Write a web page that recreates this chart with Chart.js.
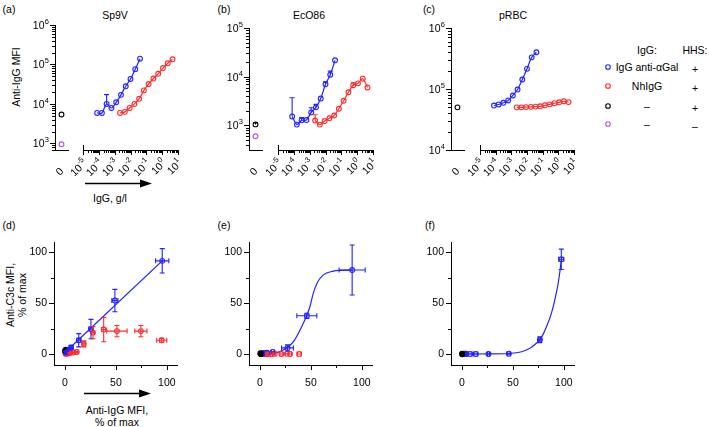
<!DOCTYPE html>
<html>
<head>
<meta charset="utf-8">
<script src="https://cdn.jsdelivr.net/npm/chart.js@4.4.1/dist/chart.umd.min.js"></script>
<style>
  body { margin: 0; background: #fff; }
  #fig { position: relative; width: 709px; height: 427px; overflow: hidden;
         font-family: 'Liberation Sans', Arial, sans-serif; font-size: 10.5px; color: #000; }
  #fig canvas { position: absolute; }
  .t { position: absolute; transform: translate(-50%, -50%); white-space: nowrap; line-height: 1; }
  .r { transform: translate(-50%, -50%) rotate(-90deg); }
  svg { position: absolute; left: 0; top: 0; }
</style>
</head>
<body>
<div id="fig">
  <div class="t" style="left:9px;top:9px">(a)</div>
  <div class="t" style="left:224px;top:9px">(b)</div>
  <div class="t" style="left:429px;top:9px">(c)</div>
  <div class="t" style="left:9px;top:225px">(d)</div>
  <div class="t" style="left:224px;top:225px">(e)</div>
  <div class="t" style="left:430px;top:225px">(f)</div>

  <div class="t" style="left:115px;top:15px">Sp9V</div>
  <div class="t" style="left:309px;top:15px">EcO86</div>
  <div class="t" style="left:513px;top:15px">pRBC</div>

  <div class="t r" style="left:16px;top:77px">Anti-IgG MFI</div>
  <div class="t" style="left:110px;top:198px">IgG, g/l</div>

  <div class="t r" style="left:10px;top:295px">Anti-C3c MFI,</div>
  <div class="t r" style="left:22px;top:295px">% of max</div>
  <div class="t" style="left:117px;top:410px">Anti-IgG MFI,</div>
  <div class="t" style="left:117px;top:422px">% of max</div>

  <div class="t" style="left:647px;top:50px">IgG:</div>
  <div class="t" style="left:695px;top:50px">HHS:</div>
  <div id="legend"></div>

  <svg id="marks" width="709" height="427">
    <line x1="85" y1="183.5" x2="141" y2="183.5" stroke="#000" stroke-width="1.5"/>
    <polygon points="140,179.5 152,183.5 140,187.5" fill="#000"/>
    <line x1="84" y1="393.5" x2="140" y2="393.5" stroke="#000" stroke-width="1.5"/>
    <polygon points="139,389.5 151,393.5 139,397.5" fill="#000"/>
  </svg>
</div>

<script>
const BLUE = '#2121ff';
const RED = '#ff2b2b';
const BLACK = '#000000';
const MAGENTA = '#b853e8';
const FONT = "'Liberation Sans', Arial, sans-serif";

// IgG dilution series, g/l
const blueConc = [7.8e-5, 1.56e-4, 3.1e-4, 6.25e-4, 1.25e-3, 2.5e-3, 5e-3, 0.01, 0.02, 0.04];
const redConc = [0.0022, 0.0044, 0.0088, 0.0176, 0.035, 0.07, 0.14, 0.28, 0.56, 1.125, 2.25, 4.5];

const xLogTicks = [1e-5, 1e-4, 1e-3, 1e-2, 1e-1, 1, 10];
const xLogExps = ['-5', '-4', '-3', '-2', '-1', '0', '1'];

// (a) Sp9V, anti-IgG MFI
const aBlue = [5900, 5900, 10000, 7900, 11000, 17000, 28000, 43000, 76000, 140000];
const aBlueHi = [null, null, 17200, null, null, null, null, null, null, null];
const aRed = [5900, 6300, 7900, 10000, 13500, 22000, 32000, 44000, 58000, 81000, 107000, 135000];
const aCtrl = [5400, 950];            // black, magenta
const aYTicks = [1e3, 1e4, 1e5, 1e6];
const aYExps = ['3', '4', '5', '6'];

// (b) EcO86
const bBlue = [1530, 1040, 1270, 1290, 1850, 2350, 3560, 7000, 11000, 21700];
const bBlueHi = [3700, null, 1450, null, 2300, 2700, null, 7900, 13000, null];
const bRed = [1260, 1040, 1230, 1400, 1600, 2200, 3200, 4800, 6700, 7300, 9100, 6000];
const bRedHi = [1660, null, null, null, null, null, null, null, 7500, null, null, null];
const bCtrl = [1050, 600];
const bCtrlHi = [1130, null];
const bYTicks = [1e3, 1e4, 1e5];
const bYExps = ['3', '4', '5'];

// (c) pRBC
const cBlue = [53500, 55800, 59400, 64900, 78300, 98000, 143000, 214000, 330000, 400000];
const cRed = [50000, 50000, 50500, 51000, 51500, 52000, 54000, 56000, 58500, 60500, 63000, 61000];
const cCtrl = [50000];
const cYTicks = [1e4, 1e5, 1e6];
const cYExps = ['4', '5', '6'];

// (d) anti-C3c vs anti-IgG, % of max
const dBlueX = [0.5, 1, 1.5, 2.5, 4, 6, 13.5, 25.5, 49, 95.5];
const dBlueY = [1.5, 2, 2.5, 3, 4.5, 6.5, 13.5, 24.5, 52.5, 91.5];
const dBlueXErr = [0, 0, 0, 0.5, 1, 1.5, 2, 2, 3, 6.5];
const dBlueYErr = [1, 1, 1, 1, 1.5, 2, 6.5, 9.5, 11, 12];
const dRedX = [0.5, 1.5, 3, 5, 8, 11.5, 18.5, 27.5, 38, 51, 74.5, 95];
const dRedY = [0.2, 0.3, 0.5, 1, 1.5, 2, 10, 21, 24, 22.5, 22.5, 13.5];
const dRedXErr = [0, 0, 0, 0.5, 1, 1.5, 1.5, 1.5, 2, 10, 6, 5];
const dRedYErr = [0, 0, 0, 0.5, 0.5, 1, 3, 6, 12, 5.5, 5.5, 2];
const dCtrlX = [0.3, 0.8];
const dCtrlY = [3, 4];
const dFitX = [0, 96];
const dFitY = [1.5, 92];

// (e)
const eBlueX = [1.5, 2.5, 3.5, 4.5, 5.5, 7, 12.5, 27, 46, 90.5];
const eBlueY = [0.3, 0.5, 0.6, 0.8, 1, 1.2, 2, 6, 37.5, 82.5];
const eBlueXErr = [0, 0, 0, 0.5, 0.5, 1, 1.5, 5.8, 9.8, 12.8];
const eBlueYErr = [0, 0, 0, 0, 0, 0.5, 0.5, 3, 2.5, 24.5];
const eRedX = [1, 2, 3, 4.5, 6, 8, 11.5, 14.5, 21, 26.5, 29.5, 38.5];
const eRedY = [0, 0, 0, 0, 0, 0, 0, 0.2, 0, 0.2, 0, 0];
const eRedXErr = [0, 0, 0, 0, 0.5, 0.5, 1, 1, 1.5, 1.5, 1.5, 2];
const eCtrlX = [0.5, 1];
const eCtrlY = [0.5, 0.3];
const eFitX = [5, 10, 19.6, 27.7, 32.7, 37.6, 42, 46, 49, 52.3, 56.2, 62, 71.9, 80, 90.5];
const eFitY = [0.2, 0.5, 2.3, 7.2, 12, 20.2, 29, 38, 46.4, 59.5, 70, 77.5, 81.4, 82.2, 82.5];

// (f)
const fBlueX = [0.8, 1.5, 2.5, 4, 8, 13.5, 26, 46, 76.5, 97.5];
const fBlueY = [0, 0, 0, 0, 0, 0, 0, 0.3, 14, 93];
const fBlueXErr = [0, 0, 0, 0.5, 2, 2, 1, 1.5, 1.5, 2.5];
const fBlueYErr = [0, 0, 0, 0, 0, 0, 0, 0.5, 3, 10];
const fRedX = [0.3, 0.6, 0.9, 1.2, 1.5, 1.8, 2.1, 2.5, 2.9, 3.3, 3.7, 4.2];
const fRedY = [0, 0, 0, 0.1, 0, 0.2, 0, 0.1, 0.2, 0.1, 0.3, 0.2];
const fCtrlX = [0.2];
const fCtrlY = [0];
const fFitX = [0, 30, 45, 55, 62, 68, 73, 76.5, 80, 83, 86.5, 89.5, 92, 94.4, 96, 97.7];
const fFitY = [0, 0.1, 0.5, 1.5, 3.5, 6.5, 10.5, 14, 20, 27, 36, 46, 57, 69, 80, 93];

const pctTicks = [0, 50, 100];
const pctLabels = ['0', '50', '100'];
const pctMinor = [25, 75];

// legend
const legendIgG = ['IgG anti-αGal', 'NhIgG', '–', '–'];
const legendHHS = ['+', '+', '+', '–'];
const legendColors = [BLUE, RED, BLACK, MAGENTA];
const legendY = [67, 86, 106, 124];

Chart.defaults.font.family = FONT;
Chart.defaults.font.size = 10.5;
Chart.defaults.color = '#000';

function logMinor(min, max) {
    const out = [];
    for (let e = Math.floor(Math.log10(min)); e <= Math.ceil(Math.log10(max)); e++) {
        for (let k = 2; k <= 9; k++) {
            const v = k * Math.pow(10, e);
            if (v >= min && v <= max) out.push(v);
        }
    }
    return out;
}

// tick marks drawn by hand: long majors, short minors
const tickMarks = {
    id: 'tickMarks',
    afterDraw(chart, args, opts) {
        const ctx = chart.ctx, a = chart.chartArea;
        ctx.save();
        ctx.strokeStyle = '#000';
        ctx.lineWidth = 1;
        ctx.beginPath();
        ['x', 'y'].forEach(id => {
            const spec = opts[id];
            if (!spec) return;
            const s = chart.scales[id];
            const marks = spec.major.map(v => [v, 5]).concat((spec.minor || []).map(v => [v, 3]));
            marks.forEach(([v, len]) => {
                const p = Math.round(s.getPixelForValue(v)) + 0.5;
                if (id === 'x') { ctx.moveTo(p, a.bottom); ctx.lineTo(p, a.bottom + len); }
                else { ctx.moveTo(a.left, p); ctx.lineTo(a.left - len, p); }
            });
            if (spec.cap) {
                const p = Math.round(a.left) + 0.5;
                ctx.moveTo(p, a.bottom - 5); ctx.lineTo(p, a.bottom + 5);
            }
        });
        ctx.stroke();
        ctx.restore();
    }
};

// "10" with a raised exponent, right end at the anchor
function drawPower(ctx, x, y, exp, rot) {
    ctx.save();
    ctx.translate(x, y);
    ctx.rotate(rot);
    ctx.fillStyle = '#000';
    ctx.textAlign = 'right';
    ctx.textBaseline = 'alphabetic';
    ctx.font = '7.5px ' + FONT;
    const ew = ctx.measureText(exp).width;
    ctx.fillText(exp, 0, -1.2);
    ctx.font = '10.5px ' + FONT;
    ctx.fillText('10', -ew - 0.3, 3.8);
    ctx.restore();
}

const powerLabels = {
    id: 'powerLabels',
    afterDraw(chart, args, opts) {
        const ctx = chart.ctx, a = chart.chartArea;
        if (opts.y) {
            opts.y.values.forEach((v, i) => {
                drawPower(ctx, a.left - 6, chart.scales.y.getPixelForValue(v), opts.y.exps[i], 0);
            });
        }
        if (opts.x) {
            opts.x.values.forEach((v, i) => {
                drawPower(ctx, chart.scales.x.getPixelForValue(v) + 2, a.bottom + 11, opts.x.exps[i], -Math.PI / 4);
            });
        }
        if (opts.zero) {
            ctx.save();
            ctx.translate((a.left + a.right) / 2 - 1.5, 172);
            ctx.rotate(-Math.PI / 4);
            ctx.fillStyle = '#000';
            ctx.font = '10.5px ' + FONT;
            ctx.textAlign = 'center';
            ctx.textBaseline = 'middle';
            ctx.fillText('0', 0, 0);
            ctx.restore();
        }
    }
};

const errorBars = {
    id: 'errorBars',
    afterDatasetsDraw(chart) {
        const ctx = chart.ctx, xs = chart.scales.x, ys = chart.scales.y;
        chart.data.datasets.forEach(ds => {
            if (!ds.errX && !ds.errY) return;
            ctx.save();
            ctx.strokeStyle = ds.borderColor;
            ctx.lineWidth = 1.1;
            ctx.beginPath();
            ds.data.forEach((p, i) => {
                const px = xs.getPixelForValue(p.x), py = ys.getPixelForValue(p.y);
                const ey = ds.errY && ds.errY[i];
                if (ey) {
                    const y0 = ey[0] == null ? py : ys.getPixelForValue(ey[0]);
                    const y1 = ys.getPixelForValue(ey[1]);
                    ctx.moveTo(px, y0); ctx.lineTo(px, y1);
                    ctx.moveTo(px - 2.5, y1); ctx.lineTo(px + 2.5, y1);
                    if (ey[0] != null) { ctx.moveTo(px - 2.5, y0); ctx.lineTo(px + 2.5, y0); }
                }
                const ex = ds.errX && ds.errX[i];
                if (ex) {
                    const x0 = xs.getPixelForValue(ex[0]), x1 = xs.getPixelForValue(ex[1]);
                    ctx.moveTo(x0, py); ctx.lineTo(x1, py);
                    ctx.moveTo(x0, py - 2.5); ctx.lineTo(x0, py + 2.5);
                    ctx.moveTo(x1, py - 2.5); ctx.lineTo(x1, py + 2.5);
                }
            });
            ctx.stroke();
            ctx.restore();
        });
    }
};

Chart.register(tickMarks, powerLabels, errorBars);

function addCanvas(left, top, w, h) {
    const c = document.createElement('canvas');
    c.width = w; c.height = h;
    c.style.left = left + 'px'; c.style.top = top + 'px';
    c.style.width = w + 'px'; c.style.height = h + 'px';
    document.getElementById('fig').appendChild(c);
    return c;
}

function fixedTicks(values) {
    return s => { s.ticks = values.map(v => ({ value: v })); };
}

function fixSize(size, dim) {
    return s => {
        s[dim] = size;
        s.paddingLeft = 0; s.paddingRight = 0; s.paddingTop = 0; s.paddingBottom = 0;
    };
}

function axis(extra) {
    return Object.assign({
        grid: { display: false, drawTicks: false },
        border: { display: true, color: '#000', width: 1 }
    }, extra);
}

function circles(xs, ys, color, extra) {
    return Object.assign({
        data: xs.map((x, i) => ({ x: x, y: ys[i] })),
        borderColor: color,
        backgroundColor: 'rgba(0,0,0,0)',
        pointRadius: 2.4,
        pointBorderWidth: 1.1,
        borderWidth: 1.1,
        showLine: false
    }, extra);
}

function upperErr(hi) {
    return hi.map(h => h == null ? null : [null, h]);
}

function symErr(vals, err) {
    return vals.map((v, i) => err[i] ? [v - err[i], v + err[i]] : null);
}

const baseOpts = {
    responsive: false,
    animation: false,
    events: []
};

// top row: a small "0" chart for the controls and a log-x chart for the dilutions
function topPanel(p) {
    const areaBottom = 150;
    new Chart(addCanvas(p.left0, 0, 75, 200), {
        type: 'scatter',
        data: { datasets: p.ctrl },
        options: Object.assign({}, baseOpts, {
            layout: { padding: { top: p.top, right: 75 - (p.axisX + 13) + p.left0, left: 0, bottom: 0 } },
            scales: {
                x: axis({
                    type: 'linear', min: -1, max: 1,
                    afterBuildTicks: fixedTicks([0]),
                    afterFit: fixSize(200 - areaBottom, 'height'),
                    ticks: { display: false }
                }),
                y: axis({
                    type: 'logarithmic', min: p.yMin, max: p.yMax,
                    afterBuildTicks: fixedTicks(p.yTicks),
                    afterFit: fixSize(p.axisX - p.left0, 'width'),
                    ticks: { display: false }
                })
            },
            plugins: {
                legend: { display: false }, tooltip: { enabled: false },
                tickMarks: { y: { major: p.yTicks, minor: logMinor(p.yMin, p.yMax) } },
                powerLabels: { y: { values: p.yTicks, exps: p.yExps }, zero: true }
            }
        })
    });

    const w1 = p.right1 - p.left1;
    new Chart(addCanvas(p.left1, 0, w1, 200), {
        type: 'scatter',
        data: { datasets: p.series },
        options: Object.assign({}, baseOpts, {
            layout: { padding: { top: p.top, right: p.right1 - p.areaRight, left: p.areaLeft - p.left1, bottom: 0 } },
            scales: {
                x: axis({
                    type: 'logarithmic', min: 1e-5, max: 10,
                    afterBuildTicks: fixedTicks(xLogTicks),
                    afterFit: fixSize(200 - areaBottom, 'height'),
                    ticks: { display: false }
                }),
                y: { type: 'logarithmic', min: p.yMin, max: p.yMax, display: false }
            },
            plugins: {
                legend: { display: false }, tooltip: { enabled: false },
                tickMarks: { x: { major: xLogTicks, minor: logMinor(1e-5, 10), cap: true } },
                powerLabels: { x: { values: xLogTicks, exps: xLogExps } }
            }
        })
    });
}

function curveSet(xs, ys, color, line) {
    return circles(xs, ys, color, Object.assign({ showLine: true, tension: 0.3, borderWidth: 1.2 }, line));
}

topPanel({
    left0: 0, axisX: 55, left1: 62, areaLeft: 83, areaRight: 178, right1: 190, top: 25,
    yMin: 680, yMax: 1e6, yTicks: aYTicks, yExps: aYExps,
    ctrl: [
        circles([0], [aCtrl[0]], BLACK),
        circles([0], [aCtrl[1]], MAGENTA)
    ],
    series: [
        curveSet(blueConc, aBlue, BLUE, { errY: upperErr(aBlueHi) }),
        curveSet(redConc, aRed, RED)
    ]
});

topPanel({
    left0: 195, axisX: 249, left1: 257, areaLeft: 278, areaRight: 373, right1: 385, top: 28,
    yMin: 313, yMax: 1e5, yTicks: bYTicks, yExps: bYExps,
    ctrl: [
        circles([0], [bCtrl[0]], BLACK, { errY: upperErr(bCtrlHi).slice(0, 1) }),
        circles([0], [bCtrl[1]], MAGENTA)
    ],
    series: [
        curveSet(blueConc, bBlue, BLUE, { errY: upperErr(bBlueHi) }),
        curveSet(redConc, bRed, RED, { errY: upperErr(bRedHi) })
    ]
});

topPanel({
    left0: 397, axisX: 451, left1: 459, areaLeft: 480, areaRight: 574, right1: 584, top: 28,
    yMin: 1e4, yMax: 1e6, yTicks: cYTicks, yExps: cYExps,
    ctrl: [
        circles([0], [cCtrl[0]], BLACK)
    ],
    series: [
        curveSet(blueConc, cBlue, BLUE),
        curveSet(redConc, cRed, RED)
    ]
});

// bottom row
function bottomPanel(left, axisX, sets) {
    new Chart(addCanvas(left, 230, 190, 197), {
        type: 'scatter',
        data: { datasets: sets },
        options: Object.assign({}, baseOpts, {
            layout: { padding: { top: 12, right: 190 - (axisX - left + 123), left: 0, bottom: 0 } },
            scales: {
                x: axis({
                    type: 'linear', min: -10.8, max: 110,
                    afterBuildTicks: fixedTicks(pctTicks),
                    afterFit: fixSize(427 - 365, 'height'),
                    ticks: { padding: 12, autoSkip: false, maxRotation: 0, callback: (v, i) => pctLabels[i] }
                }),
                y: axis({
                    type: 'linear', min: -10.8, max: 110,
                    afterBuildTicks: fixedTicks(pctTicks),
                    afterFit: fixSize(axisX - left, 'width'),
                    ticks: { padding: 7, autoSkip: false, callback: (v, i) => pctLabels[i] }
                })
            },
            plugins: {
                legend: { display: false }, tooltip: { enabled: false },
                tickMarks: {
                    x: { major: pctTicks, minor: pctMinor },
                    y: { major: pctTicks, minor: pctMinor }
                }
            }
        })
    });
}

function fitLine(xs, ys, smooth) {
    return {
        data: xs.map((x, i) => ({ x: x, y: ys[i] })),
        borderColor: BLUE, borderWidth: 1.2, pointRadius: 0, showLine: true,
        tension: smooth ? 0.4 : 0, cubicInterpolationMode: smooth ? 'monotone' : 'default'
    };
}

function blackDots(xs, ys) {
    return circles(xs, ys, BLACK, { backgroundColor: BLACK, pointRadius: 2.6 });
}

bottomPanel(0, 54, [
    blackDots(dCtrlX, dCtrlY),
    circles(dBlueX, dBlueY, BLUE, { errX: symErr(dBlueX, dBlueXErr), errY: symErr(dBlueY, dBlueYErr) }),
    circles(dRedX, dRedY, RED, { errX: symErr(dRedX, dRedXErr), errY: symErr(dRedY, dRedYErr) }),
    fitLine(dFitX, dFitY, false)
]);

bottomPanel(195, 249, [
    blackDots(eCtrlX, eCtrlY),
    circles(eBlueX, eBlueY, BLUE, { errX: symErr(eBlueX, eBlueXErr), errY: symErr(eBlueY, eBlueYErr) }),
    circles(eRedX, eRedY, RED, { errX: symErr(eRedX, eRedXErr) }),
    fitLine(eFitX, eFitY, true)
]);

bottomPanel(397, 451, [
    blackDots(fCtrlX, fCtrlY),
    circles(fBlueX, fBlueY, BLUE, { errX: symErr(fBlueX, fBlueXErr), errY: symErr(fBlueY, fBlueYErr) }),
    circles(fRedX, fRedY, RED),
    fitLine(fFitX, fFitY, true)
]);

// legend rows
const svg = document.getElementById('marks');
const legend = document.getElementById('legend');
legendIgG.forEach((txt, i) => {
    const c = document.createElementNS('http://www.w3.org/2000/svg', 'circle');
    c.setAttribute('cx', 608); c.setAttribute('cy', legendY[i]); c.setAttribute('r', 2.3);
    c.setAttribute('fill', 'none'); c.setAttribute('stroke', legendColors[i]); c.setAttribute('stroke-width', 1.1);
    svg.appendChild(c);
    legend.insertAdjacentHTML('beforeend',
        `<div class="t" style="left:647px;top:${legendY[i]}px">${txt}</div>` +
        `<div class="t" style="left:695px;top:${legendY[i] + 2}px">${legendHHS[i]}</div>`);
});
</script>
</body>
</html>
